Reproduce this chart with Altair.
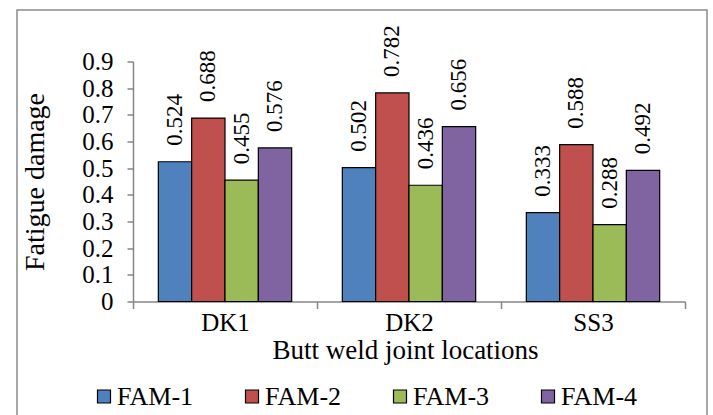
import altair as alt
import pandas as pd

# Fatigue damage per butt weld joint location and fatigue assessment method
locations = ["DK1", "DK2", "SS3"]
methods = ["FAM-1", "FAM-2", "FAM-3", "FAM-4"]
fam1 = [0.524, 0.502, 0.333]
fam2 = [0.688, 0.782, 0.588]
fam3 = [0.455, 0.436, 0.288]
fam4 = [0.576, 0.656, 0.492]
colors = ["#4F81BD", "#C0504D", "#9BBB59", "#8064A2"]
y_ticks = [0, 0.1, 0.2, 0.3, 0.4, 0.5, 0.6, 0.7, 0.8, 0.9]

rows = []
for name, vals in zip(methods, [fam1, fam2, fam3, fam4]):
    for loc, v in zip(locations, vals):
        rows.append({"location": loc, "method": name, "damage": v})
df = pd.DataFrame(rows)

FONT = "Liberation Serif"
GRAY = "#868686"

x_axis = alt.Axis(
    title="Butt weld joint locations",
    labelAngle=0,
    labelFont=FONT,
    labelFontSize=25,
    labelColor="black",
    labelPadding=2,
    tickBand="extent",
    tickSize=7,
    tickColor=GRAY,
    domainColor=GRAY,
    domainWidth=1.5,
    tickWidth=1.5,
    titleFont=FONT,
    titleFontSize=27,
    titleFontWeight="normal",
    titleColor="black",
    titleX=272,
    titleY=57,
    titleBaseline="alphabetic",
    titleAlign="center",
)
y_axis = alt.Axis(
    title="Fatigue damage",
    values=y_ticks,
    tickCount=10,
    format=".1~f",
    grid=False,
    labelOverlap=False,
    labelFont=FONT,
    labelFontSize=25,
    labelColor="black",
    labelPadding=14,
    tickSize=6,
    tickColor=GRAY,
    domainColor=GRAY,
    domainWidth=1.5,
    tickWidth=1.5,
    titleFont=FONT,
    titleFontSize=28,
    titleFontWeight="normal",
    titleColor="black",
    titleAngle=270,
    titleX=-98,
    titleY=120,
    titleAlign="center",
    titleBaseline="middle",
)

x_enc = alt.X(
    "location:N",
    sort=locations,
    scale=alt.Scale(paddingInner=0, paddingOuter=0),
    axis=x_axis,
)
xoff_enc = alt.XOffset(
    "method:N", sort=methods, scale=alt.Scale(paddingInner=0, paddingOuter=0.76)
)
y_enc = alt.Y(
    "damage:Q",
    scale=alt.Scale(domain=[0, 0.9], nice=False),
    axis=y_axis,
)

bars = alt.Chart(df).mark_bar(stroke="black", strokeWidth=1.2).encode(
    x=x_enc,
    xOffset=xoff_enc,
    y=y_enc,
    color=alt.Color(
        "method:N",
        sort=methods,
        scale=alt.Scale(domain=methods, range=colors),
        legend=alt.Legend(
            title=None,
            orient="none",
            direction="horizontal",
            legendX=-42,
            legendY=322,
            padding=0,
            symbolType="square",
            symbolSize=169,
            symbolStrokeColor="black",
            symbolStrokeWidth=1.2,
            symbolOpacity=1,
            labelFont=FONT,
            labelFontSize=26,
            labelColor="black",
            labelOffset=0,
            columnPadding=45,
            labelLimit=200,
        ),
    ),
)

labels = alt.Chart(df).mark_text(
    angle=270,
    align="left",
    baseline="middle",
    dx=16,
    font=FONT,
    fontSize=23,
    color="black",
).encode(
    x=x_enc,
    xOffset=xoff_enc,
    y=y_enc,
    text=alt.Text("damage:Q", format=".3f"),
)

frame = alt.Chart(pd.DataFrame({"k": [0]})).mark_rect(
    fillOpacity=0, stroke="#8c8c8c", strokeWidth=1.5
).encode(
    x=alt.value(-116),
    x2=alt.value(574),
    y=alt.value(-51.5),
    y2=alt.value(380),
)

chart = (
    alt.layer(frame, bars, labels)
    .properties(
        width=552,
        height=240,
        autosize=alt.AutoSizeParams(type="none"),
        padding={"left": 133, "top": 61.5, "right": 28, "bottom": 113.5},
        background="white",
    )
    .configure(font=FONT)
    .configure_axis(labelFont=FONT, titleFont=FONT)
    .configure_legend(labelFont=FONT)
    .configure_text(font=FONT)
    .configure_view(stroke=None)
)

chart.save("out.html", embed_options={"renderer": "svg", "actions": False})
